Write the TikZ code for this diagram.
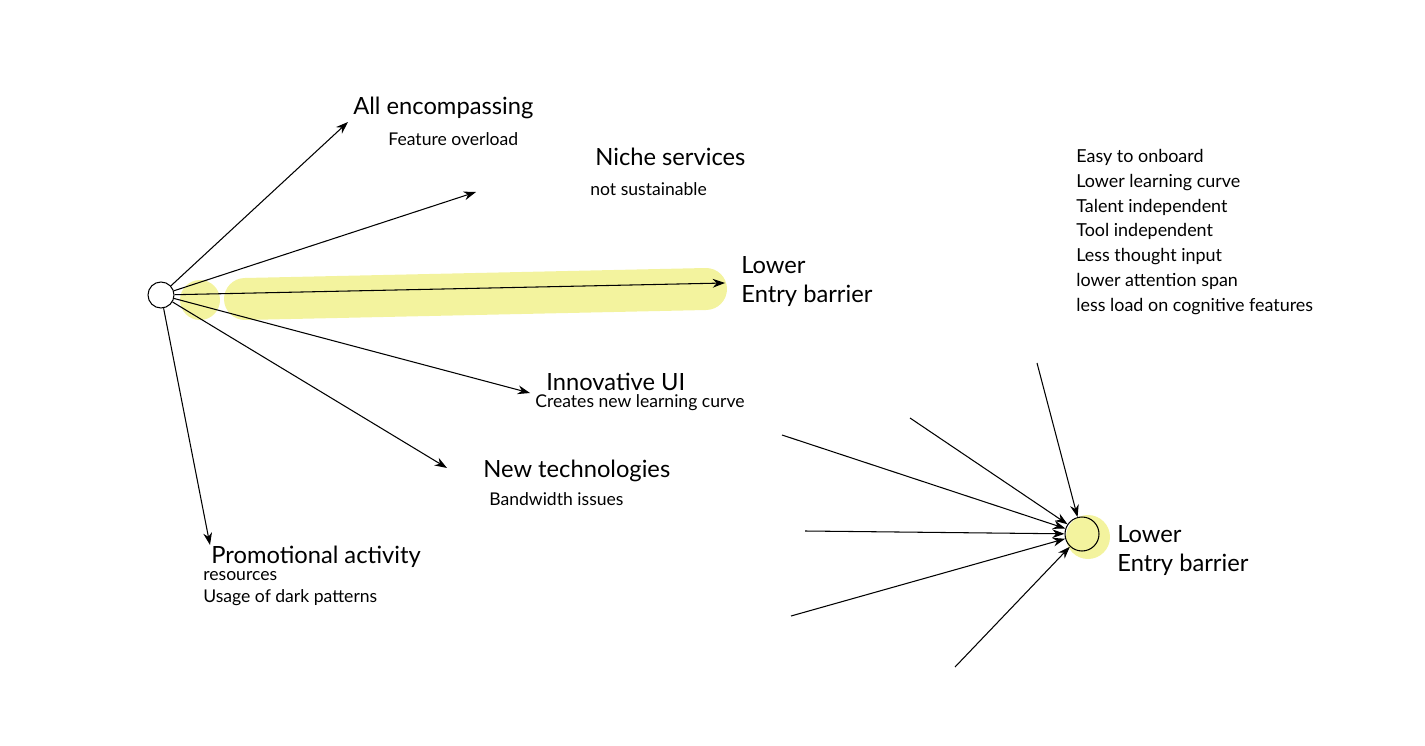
\documentclass[tikz,border=0pt]{standalone}
\usepackage{fontspec}
\setmainfont{Lato}
\usetikzlibrary{arrows.meta, positioning}
\definecolor{hilite}{RGB}{243,243,158}

\begin{document}
\begin{tikzpicture}[
  x=0.02cm, y=-0.02cm,
  hub/.style  = {circle, draw, fill=white, minimum size=0.52cm, inner sep=0pt, line width=0.6pt},
  head/.style = {font=\fontsize{13.5}{16.5}\selectfont, anchor=west, inner sep=0pt, align=left},
  sub/.style  = {font=\fontsize{10}{12.5}\selectfont, anchor=west, inner sep=0pt, align=left},
  arr/.style  = {-{Stealth[length=7pt, width=5pt]}, line width=0.6pt},
]
\useasboundingbox (0,0) rectangle (1425,746);

% ── Highlights ───────────────────────────────────────────────────────────────
\fill[hilite] (200,300) circle (20);
\draw[hilite, line width=0.84cm, line cap=round] (245,299) -- (706,289);
\fill[hilite] (1088,537) circle (22);

% ── Left hub and its targets ─────────────────────────────────────────────────
\node[hub] (src) at (161,295) {};

\coordinate (a1) at (348,122);
\coordinate (a2) at (476,192);
\coordinate (a3) at (725,283);
\coordinate (a4) at (530,393);
\coordinate (a5) at (447,468);
\coordinate (a6) at (210,545);

\draw[arr] (src) -- (a1);
\draw[arr] (src) -- (a2);
\draw[arr] (src) -- (a3);
\draw[arr] (src) -- (a4);
\draw[arr] (src) -- (a5);
\draw[arr] (src) -- (a6);

\node[head] (all)   at (353,108) {All encompassing};
\node[sub]  (over)  at (388,139) {Feature overload};
\node[head] (niche) at (595,157) {Niche services};
\node[sub]  (sust)  at (590,189) {not sustainable};
\node[head] (low)   at (741,282) {Lower\\Entry barrier};
\node[head] (innov) at (546,382) {Innovative UI};
\node[sub]  (curve) at (535,403) {Creates new learning curve};
\node[head] (tech)  at (483,471) {New technologies};
\node[sub]  (band)  at (489,499) {Bandwidth issues};
\node[head] (promo) at (211,557) {Promotional activity};
\node[sub]  (res)   at (203,589) {resources\\Usage of dark patterns};

% ── Right hub ─────────────────────────────────────────────────────────────────
\node[hub, fill=none, minimum size=0.68cm] (dst) at (1082,534) {};
\node[head] (low2) at (1117,551) {Lower\\Entry barrier};

\coordinate (b1) at (1037,363);
\coordinate (b2) at (910,418);
\coordinate (b3) at (782,435);
\coordinate (b4) at (805,531);
\coordinate (b5) at (791,616);
\coordinate (b6) at (955,667);

\draw[arr] (b1) -- (dst);
\draw[arr] (b2) -- (dst);
\draw[arr] (b3) -- (dst);
\draw[arr] (b4) -- (dst);
\draw[arr] (b5) -- (dst);
\draw[arr] (b6) -- (dst);

% ── Attributes list ───────────────────────────────────────────────────────────
\node[sub, font=\fontsize{10.2}{14.2}\selectfont] (list) at (1076,232)
      {Easy to onboard\\Lower learning curve\\Talent independent\\Tool independent\\Less thought input\\lower attention span\\less load on cognitive features};

\end{tikzpicture}
\end{document}
